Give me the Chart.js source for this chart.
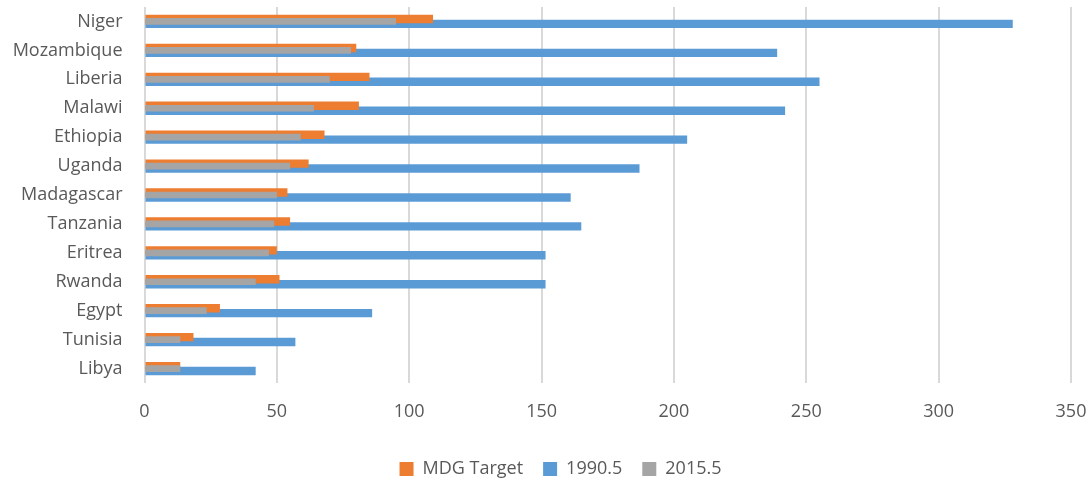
<!DOCTYPE html>
<html>
<head>
<meta charset="utf-8">
<script src="https://cdn.jsdelivr.net/npm/chart.js@4/dist/chart.umd.min.js"></script>
<style>
  html, body { margin: 0; padding: 0; background: #ffffff; }
  #wrap { position: relative; width: 1090px; height: 480px; }
</style>
</head>
<body>
<div id="wrap"><canvas id="c"></canvas></div>
<script>
const categories = ['Niger', 'Mozambique', 'Liberia', 'Malawi', 'Ethiopia', 'Uganda', 'Madagascar', 'Tanzania', 'Eritrea', 'Rwanda', 'Egypt', 'Tunisia', 'Libya'];
const mdgTarget = [109, 80, 85, 81, 68, 62, 54, 55, 50, 51, 28.5, 18.5, 13.5];
const v1990 = [328, 239, 255, 242, 205, 187, 161, 165, 151.5, 151.5, 86, 57, 42];
const v2015 = [95, 78, 70, 64, 59, 55, 50, 49, 47, 42, 23.5, 13.5, 13.5];
const seriesNames = ['MDG Target', '1990.5', '2015.5'];
const xTicks = [0, 50, 100, 150, 200, 250, 300, 350];

const FONT = "'Open Sans', sans-serif";
const TEXT = '#595959';

// shifts the bottom legend block to the right, as in the reference
const legendShift = {
  id: 'legendShift',
  afterLayout(chart) {
    if (chart.legend) { chart.legend.left += 40; }
  }
};

new Chart(document.getElementById('c'), {
  type: 'bar',
  data: {
    labels: categories,
    datasets: [
      {
        label: seriesNames[0], data: mdgTarget,
        backgroundColor: '#ED7D31',
        categoryPercentage: 0.339, barPercentage: 1.714,
        order: 0
      },
      {
        label: seriesNames[1], data: v1990,
        backgroundColor: '#5B9BD5',
        categoryPercentage: 0.339, barPercentage: 1.714,
        order: 0
      },
      {
        label: seriesNames[2], data: v2015,
        backgroundColor: '#A5A5A5',
        grouped: false, barPercentage: 0.29,
        order: -1
      }
    ]
  },
  plugins: [legendShift],
  options: {
    indexAxis: 'y',
    responsive: true,
    maintainAspectRatio: false,
    animation: false,
    layout: { padding: { left: 10, right: 19, top: 7, bottom: -8 } },
    scales: {
      x: {
        min: xTicks[0], max: xTicks[xTicks.length - 1],
        afterBuildTicks: (axis) => { axis.ticks = xTicks.map(v => ({ value: v })); },
        afterFit: (scale) => { scale.height = 57; },
        grid: { color: '#d9d9d9', lineWidth: 2, drawTicks: true, tickLength: 18, tickColor: 'rgba(0,0,0,0)' },
        border: { display: false },
        ticks: { color: TEXT, font: { family: FONT, size: 18 }, padding: 0 }
      },
      y: {
        afterFit: (scale) => { scale.width = 134.5; },
        grid: { display: true, drawOnChartArea: false, drawTicks: true, tickLength: 22, color: 'rgba(0,0,0,0)', tickColor: 'rgba(0,0,0,0)' },
        border: { display: false },
        ticks: { color: TEXT, font: { family: FONT, size: 18, lineHeight: 0.7 }, padding: 0 }
      }
    },
    plugins: {
      tooltip: { enabled: false },
      legend: {
        position: 'bottom',
        labels: {
          color: TEXT,
          font: { family: FONT, size: 18 },
          boxWidth: 14, boxHeight: 14,
          padding: 20,
          sort: (a, b) => a.datasetIndex - b.datasetIndex
        }
      }
    }
  }
});
</script>
</body>
</html>
